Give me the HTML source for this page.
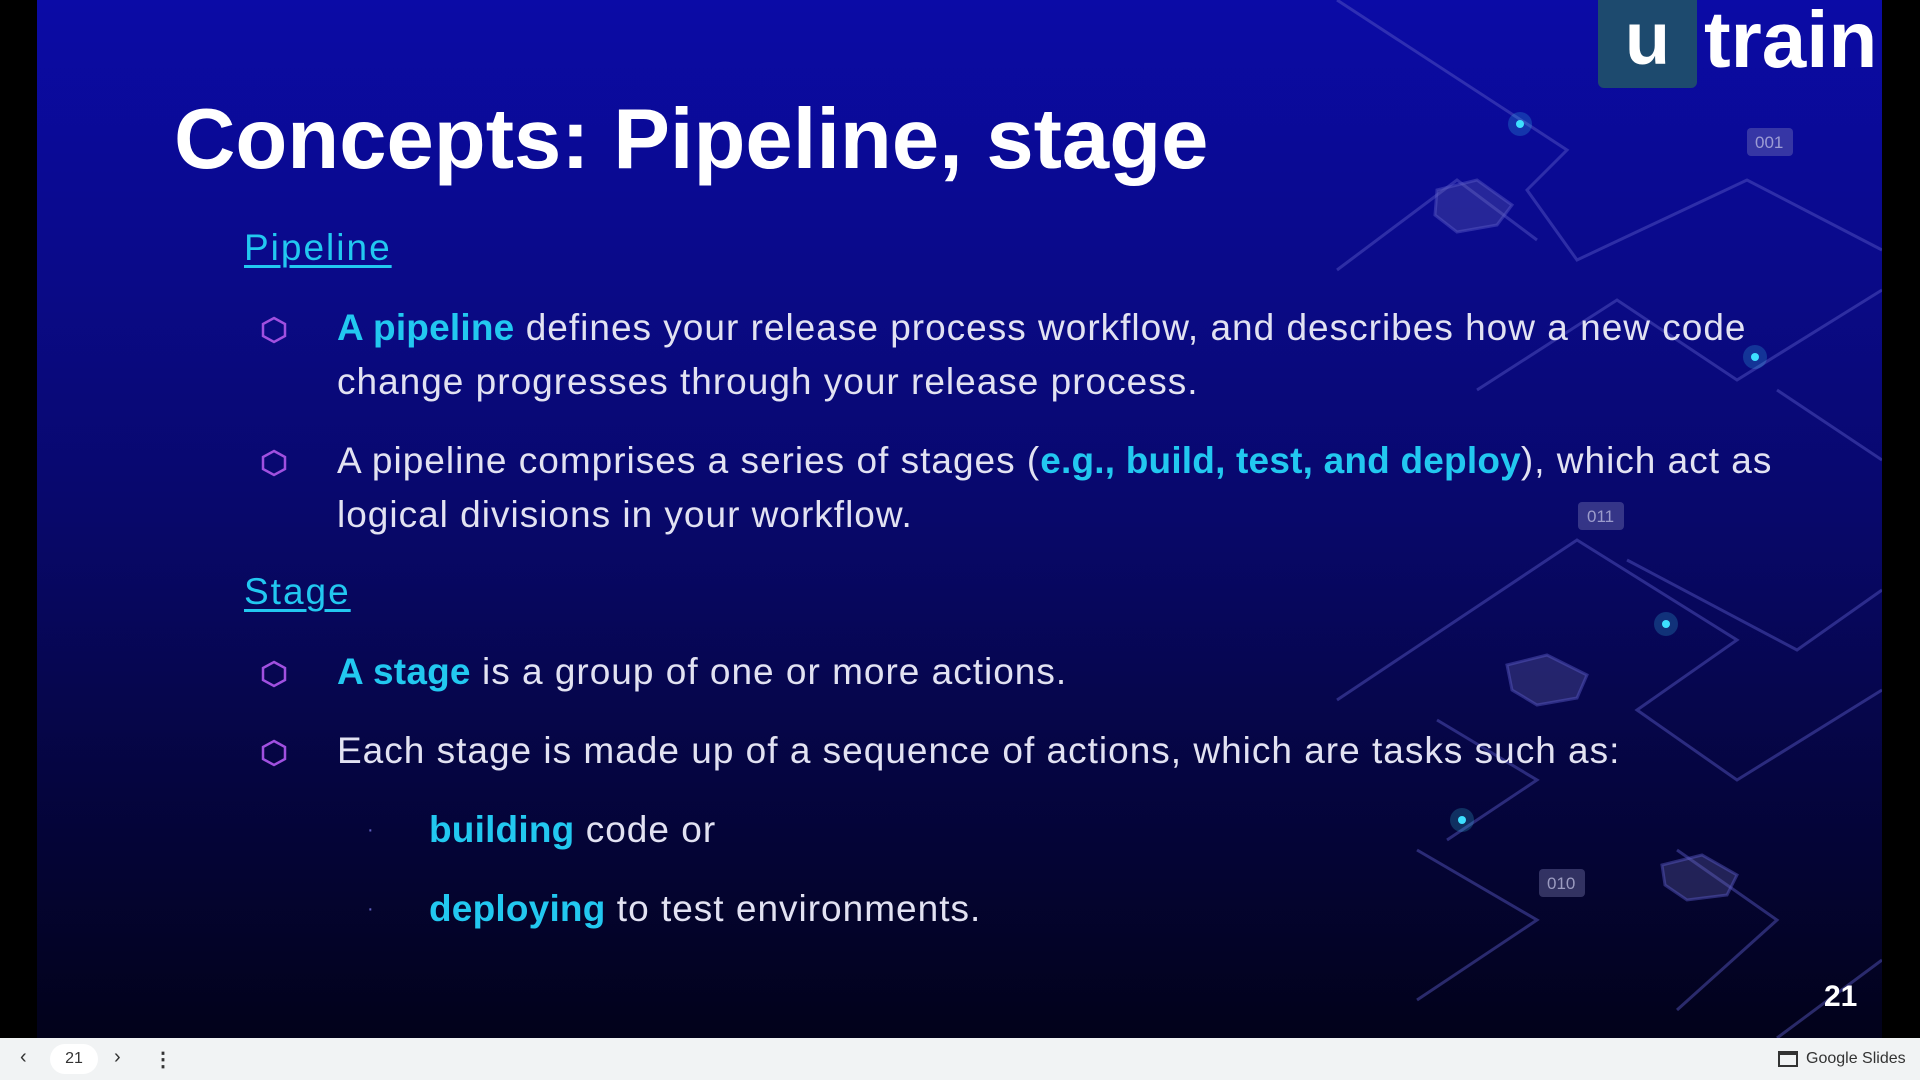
<!DOCTYPE html>
<html><head><meta charset="utf-8"><style>
*{margin:0;padding:0;box-sizing:border-box}
body{width:1920px;height:1080px;background:#000;overflow:hidden;font-family:"Liberation Sans",sans-serif;position:relative}
#slide{position:absolute;left:37px;top:0;width:1845px;height:1038px;background:linear-gradient(180deg,#0b0ba6 0%,#0a0a8a 25%,#08086a 50%,#050540 75%,#02021a 100%);overflow:hidden}
.t{position:absolute;white-space:nowrap;color:#e2e2f2;font-size:37px;line-height:54px;letter-spacing:1px}
.c{color:#22c8f0;font-weight:bold;letter-spacing:0.2px}
.h{position:absolute;color:#22c8f0;font-size:37px;letter-spacing:2px;text-decoration:underline;text-decoration-thickness:3px;text-underline-offset:5px}
.hex{position:absolute;width:28px;height:28px}
#bar{position:absolute;left:0;top:1038px;width:1920px;height:42px;background:#f1f3f4;color:#333;font-size:16px}
</style></head><body>
<div id="slide">
<svg width="1845" height="1038" style="position:absolute;left:0;top:0" fill="none" stroke="#5a5ac8" stroke-opacity="0.45" stroke-width="3">
<path d="M1300 0 L1530 150 L1490 190 L1540 260 L1710 180 L1845 250"/>
<path d="M1300 270 L1420 180 L1500 240"/>
<path d="M1440 390 L1580 300 L1700 380 L1845 290"/>
<path d="M1740 390 L1845 460"/>
<path d="M1300 700 L1540 540 L1700 640 L1600 710 L1700 780 L1845 690"/>
<path d="M1590 560 L1760 650 L1845 590"/>
<path d="M1410 840 L1500 780 L1400 720"/>
<path d="M1380 1000 L1500 920 L1380 850"/>
<path d="M1640 1010 L1740 920 L1640 850"/>
<path d="M1740 1038 L1845 960"/>
<polygon points="1400,190 1440,180 1475,205 1460,225 1420,232 1398,215" fill="#6a6ab0" fill-opacity="0.3"/>
<polygon points="1470,665 1510,655 1550,675 1540,698 1500,705 1475,690" fill="#6a6ab0" fill-opacity="0.3"/>
<polygon points="1625,865 1665,855 1700,875 1690,895 1650,900 1628,885" fill="#6a6ab0" fill-opacity="0.3"/>
</svg>
<svg width="1845" height="1038" style="position:absolute;left:0;top:0">
<g fill="#3ee0ff">
<circle cx="1483" cy="124" r="4"/><circle cx="1483" cy="124" r="12" opacity="0.2"/>
<circle cx="1718" cy="357" r="4"/><circle cx="1718" cy="357" r="12" opacity="0.2"/>
<circle cx="1629" cy="624" r="4"/><circle cx="1629" cy="624" r="12" opacity="0.2"/>
<circle cx="1425" cy="820" r="4"/><circle cx="1425" cy="820" r="12" opacity="0.2"/>
</g>
<g fill="#8a8ac0" fill-opacity="0.35">
<rect x="1710" y="128" width="46" height="28" rx="4"/><rect x="1541" y="502" width="46" height="28" rx="4"/><rect x="1502" y="869" width="46" height="28" rx="4"/>
</g>
<g fill="#c8c8e8" fill-opacity="0.7" font-family="Liberation Sans" font-size="17">
<text x="1718" y="148">001</text><text x="1550" y="522">011</text><text x="1510" y="889">010</text></g>
</svg>
<div style="position:absolute;left:1561px;top:0;width:99px;height:88px;background:#1d4a6e;border-radius:0 0 6px 6px;color:#fff;font-weight:bold;font-size:74px;line-height:78px;text-align:center">u</div>
<div style="position:absolute;left:1667px;top:-8px;color:#fff;font-weight:bold;font-size:80px;line-height:96px">train</div>
<div style="position:absolute;left:137px;top:90px;color:#fff;font-weight:bold;font-size:85px;line-height:100px;white-space:nowrap">Concepts: Pipeline, stage</div>
<div class="h" style="left:207px;top:227px">Pipeline</div>
<div class="h" style="left:207px;top:571px">Stage</div>
<svg class="hex" style="left:223px;top:316px" viewBox="0 0 28 28"><polygon points="14,2 25,8 25,20 14,26 3,20 3,8" fill="none" stroke="#a050e0" stroke-width="2.5"/></svg>
<svg class="hex" style="left:223px;top:449px" viewBox="0 0 28 28"><polygon points="14,2 25,8 25,20 14,26 3,20 3,8" fill="none" stroke="#a050e0" stroke-width="2.5"/></svg>
<svg class="hex" style="left:223px;top:660px" viewBox="0 0 28 28"><polygon points="14,2 25,8 25,20 14,26 3,20 3,8" fill="none" stroke="#a050e0" stroke-width="2.5"/></svg>
<svg class="hex" style="left:223px;top:739px" viewBox="0 0 28 28"><polygon points="14,2 25,8 25,20 14,26 3,20 3,8" fill="none" stroke="#a050e0" stroke-width="2.5"/></svg>
<div class="t" style="left:300px;top:301px"><span class="c">A pipeline</span> defines your release process workflow, and describes how a new code<br>change progresses through your release process.</div>
<div class="t" style="left:300px;top:434px">A pipeline comprises a series of stages (<span class="c">e.g., build, test, and deploy</span>), which act as<br>logical divisions in your workflow.</div>
<div class="t" style="left:300px;top:645px"><span class="c">A stage</span> is a group of one or more actions.</div>
<div class="t" style="left:300px;top:724px">Each stage is made up of a sequence of actions, which are tasks such as:</div>
<div class="t" style="left:330px;top:803px;font-size:20px;color:#6060c0">·</div>
<div class="t" style="left:330px;top:882px;font-size:20px;color:#6060c0">·</div>
<div class="t" style="left:392px;top:803px"><span class="c">building</span> code or</div>
<div class="t" style="left:392px;top:882px"><span class="c">deploying</span> to test environments.</div>
<div style="position:absolute;left:1787px;top:980px;color:#fff;font-weight:bold;font-size:30px">21</div>
</div>
<div id="bar">
<div style="position:absolute;left:20px;top:8px;font-size:20px">&#8249;</div>
<div style="position:absolute;left:50px;top:6px;width:48px;height:30px;background:#fff;border-radius:15px;text-align:center;line-height:30px;font-size:16px">21</div>
<div style="position:absolute;left:114px;top:8px;font-size:20px">&#8250;</div>
<div style="position:absolute;left:153px;top:9px;font-size:20px;font-weight:bold">&#8942;</div>
<div style="position:absolute;left:1778px;top:13px;width:20px;height:16px;border:2px solid #333;border-top-width:4px"></div>
<div style="position:absolute;left:1806px;top:12px;font-size:16px">Google Slides</div>
</div>
</body></html>
